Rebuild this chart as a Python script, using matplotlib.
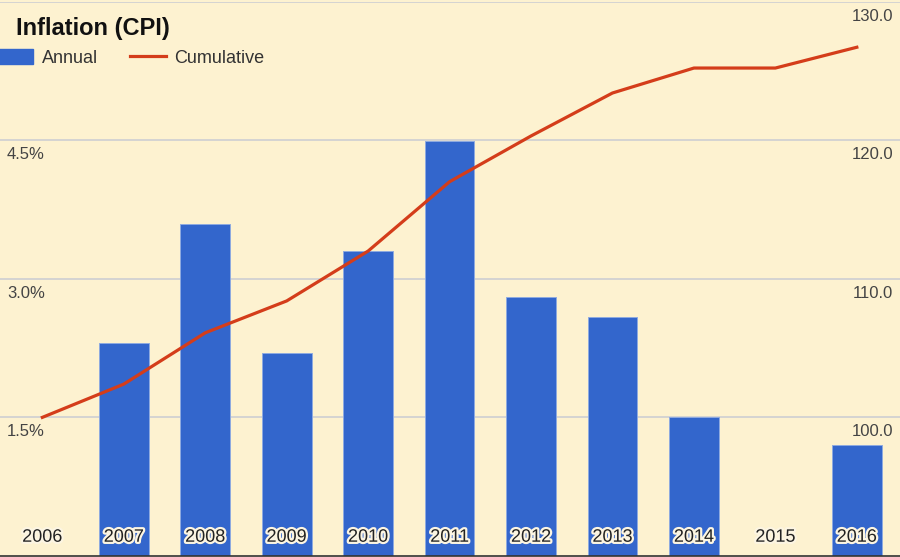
import numpy as np
import matplotlib.pyplot as plt
import matplotlib.patheffects as pe
from matplotlib.patches import Patch
from matplotlib.lines import Line2D

plt.rcParams['font.family'] = ['Liberation Sans', 'DejaVu Sans']

years = ['2006', '2007', '2008', '2009', '2010', '2011',
         '2012', '2013', '2014', '2015', '2016']
annual = [0.0, 2.30, 3.59, 2.20, 3.30, 4.49, 2.80, 2.59, 1.50, 0.0, 1.20]
cumulative = [100.0, 102.4, 106.1, 108.4, 112.0, 117.0,
              120.3, 123.4, 125.2, 125.2, 126.7]
left_ticks = [1.5, 3.0, 4.5]
left_labels = ['1.5%', '3.0%', '4.5%']
right_ticks = [100, 110, 120, 130]
right_labels = ['100.0', '110.0', '120.0', '130.0']

bg = '#fdf2d0'
bar_c = '#3366cc'
line_c = '#d43d1a'
text_c = '#222222'

fig = plt.figure(figsize=(9, 5.57), dpi=100, facecolor=bg)
ax = fig.add_axes([0, 1 / 557, 1, 554.5 / 557])
ax.set_facecolor(bg)
x = np.arange(len(years))

ax.bar(x, annual, width=0.61, color=bar_c, edgecolor='#8eaae0',
       linewidth=0.7, zorder=2)
ax.set_xlim(-0.52, 10.53)
ax.set_ylim(0, 6.0)
for t in [1.5, 3.0, 4.5, 6.0]:
    ax.axhline(t, color='#cdcfd2', lw=1.2, zorder=1)

ax2 = ax.twinx()
ax2.set_ylim(90, 130)
ax2.plot(x, cumulative, color=line_c, lw=2.3, zorder=3,
         solid_joinstyle='round')

for a in (ax, ax2):
    a.set_xticks([])
    a.set_yticks([])
    for s in a.spines.values():
        s.set_visible(False)
ax.spines['bottom'].set_visible(True)
ax.spines['bottom'].set_color('#333333')
ax.spines['bottom'].set_linewidth(1.2)

# axis labels drawn inside the plot area
for v, lab in zip(left_ticks, left_labels):
    ax2.annotate(lab, xy=(0, v / 6.0), xycoords='axes fraction',
                 xytext=(5, -10.5), textcoords='offset points',
                 ha='left', va='center', fontsize=12, color='#444444')
for v, lab in zip(right_ticks, right_labels):
    ax2.annotate(lab, xy=(1, v), xycoords=('axes fraction', 'data'),
                 xytext=(-5, -10.5), textcoords='offset points',
                 ha='right', va='center', fontsize=12, color='#444444')

halo = [pe.withStroke(linewidth=3.2, foreground='#fcf5e2')]
for xi, yr in zip(x, years):
    ax2.annotate(yr, xy=(xi, 0), xycoords=('data', 'axes fraction'),
                 xytext=(0, 13.5), textcoords='offset points',
                 ha='center', va='center', fontsize=13, color=text_c,
                 path_effects=halo, zorder=5)

fig.text(16 / 900, 1 - 28 / 557, 'Inflation (CPI)', fontsize=17,
         fontweight='bold', color='#111111', ha='left', va='center')

handles = [Patch(facecolor=bar_c, edgecolor=bar_c),
           Line2D([0], [0], color=line_c, lw=2.3)]
leg = fig.legend(handles, ['Annual', 'Cumulative'], loc='center left',
                 bbox_to_anchor=(-0.003, 1 - 58 / 557), ncol=2, frameon=False,
                 fontsize=13, handlelength=2.0, handleheight=0.9,
                 handletextpad=0.45, columnspacing=1.8, borderaxespad=0,
                 borderpad=0)
for t in leg.get_texts():
    t.set_color('#333333')

fig.savefig('out.png', dpi=100, facecolor=bg)
